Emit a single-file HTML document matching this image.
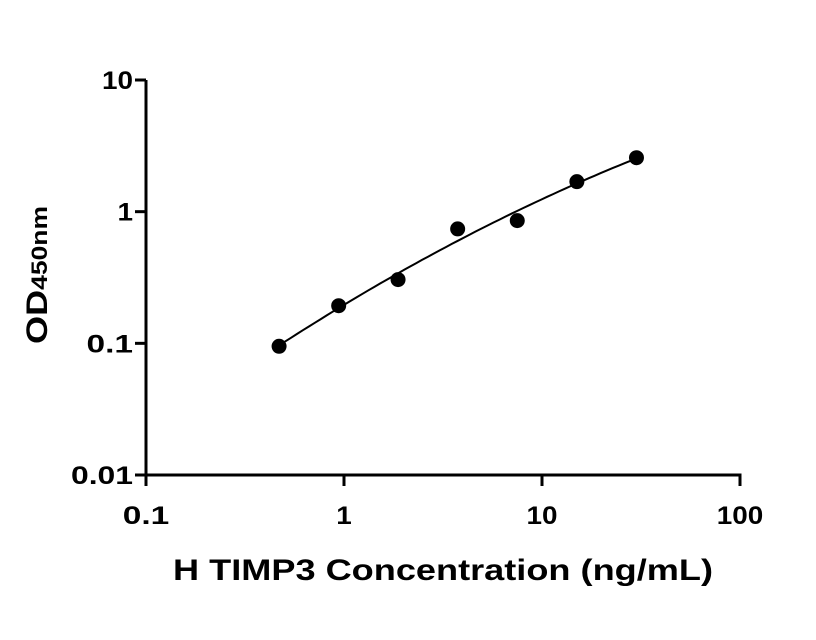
<!DOCTYPE html>
<html><head><meta charset="utf-8"><style>
body{margin:0;background:#fff;}
svg{display:block;font-family:"Liberation Sans",sans-serif;}
</style></head><body>
<svg id="chart" width="816" height="640">
<g id="axes"></g><g id="marks"></g>
<text x="443" y="580" text-anchor="middle" font-size="30" font-weight="bold" textLength="540" lengthAdjust="spacingAndGlyphs">H TIMP3 Concentration (ng/mL)</text>
<text transform="translate(47,275) rotate(-90)" text-anchor="middle" font-size="30" font-weight="bold" textLength="138" lengthAdjust="spacingAndGlyphs">OD<tspan font-size="22" font-weight="bold">450nm</tspan></text>
</svg>
<script>
const concentrations=[0.47,0.94,1.875,3.75,7.5,15,30];
const odValues=[0.095,0.193,0.305,0.74,0.855,1.69,2.57];
const xTickLabels=["0.1","1","10","100"];
const yTickLabels=["0.01","0.1","1","10"];
const NS="http://www.w3.org/2000/svg";
const X0=146,X1=740,Y0=475,Y1=80;
const xs=v=>X0+(Math.log10(v)+1)/3*(X1-X0);
const ys=v=>Y0-(Math.log10(v)+2)/3*(Y0-Y1);
function mk(t,a,p){const e=document.createElementNS(NS,t);for(const k in a)e.setAttribute(k,a[k]);(p||document.getElementById('axes')).appendChild(e);return e;}
const ax=document.getElementById('axes'),mg=document.getElementById('marks');
let e=mk('line',{x1:X0,y1:Y0,x2:X1+1.5,y2:Y0,stroke:'#000','stroke-width':3});

e=mk('line',{x1:X0,y1:Y0+1.5,x2:X0,y2:Y1,stroke:'#000','stroke-width':3});

xTickLabels.forEach(l=>{const x=xs(parseFloat(l));
 let t=mk('line',{x1:x,y1:Y0,x2:x,y2:Y0+11,stroke:'#000','stroke-width':3});
 
 t=mk('text',{x:x,y:Y0+49,'text-anchor':'middle','font-size':25,'font-weight':'bold',textLength:l.length*15.5,lengthAdjust:'spacingAndGlyphs'});t.textContent=l;
 });
yTickLabels.forEach(l=>{const y=ys(parseFloat(l));
 let t=mk('line',{x1:X0-11,y1:y,x2:X0,y2:y,stroke:'#000','stroke-width':3});
 
 t=mk('text',{x:X0-13,y:y+9,'text-anchor':'end','font-size':25,'font-weight':'bold',textLength:l.length*15.5,lengthAdjust:'spacingAndGlyphs'});t.textContent=l;
 });
const lx=concentrations.map(Math.log10),ly=odValues.map(Math.log10);
function solve(A,b){const n=b.length;for(let i=0;i<n;i++){let m=i;for(let r=i+1;r<n;r++)if(Math.abs(A[r][i])>Math.abs(A[m][i]))m=r;[A[i],A[m]]=[A[m],A[i]];[b[i],b[m]]=[b[m],b[i]];for(let r=i+1;r<n;r++){const f=A[r][i]/A[i][i];for(let c=i;c<n;c++)A[r][c]-=f*A[i][c];b[r]-=f*b[i];}}const x=Array(n).fill(0);for(let i=n-1;i>=0;i--){let s=b[i];for(let c=i+1;c<n;c++)s-=A[i][c]*x[c];x[i]=s/A[i][i];}return x;}
const S=k=>lx.reduce((s,v)=>s+Math.pow(v,k),0),T=k=>lx.reduce((s,v,i)=>s+Math.pow(v,k)*ly[i],0);
const co=solve([[S(0),S(1),S(2)],[S(1),S(2),S(3)],[S(2),S(3),S(4)]],[T(0),T(1),T(2)]);
let d='';const a=lx[0],b=lx[lx.length-1];
for(let i=0;i<=60;i++){const u=a+(b-a)*i/60;const v=co[0]+co[1]*u+co[2]*u*u;d+=(i?'L':'M')+xs(Math.pow(10,u)).toFixed(1)+','+ys(Math.pow(10,v)).toFixed(1);}
const p=mk('path',{d:d,fill:'none',stroke:'#000','stroke-width':2},mg);

concentrations.forEach((c,i)=>{const pt=mk('circle',{cx:xs(c),cy:ys(odValues[i]),r:7.5,fill:'#000'},mg);
 });
</script>
</body></html>
